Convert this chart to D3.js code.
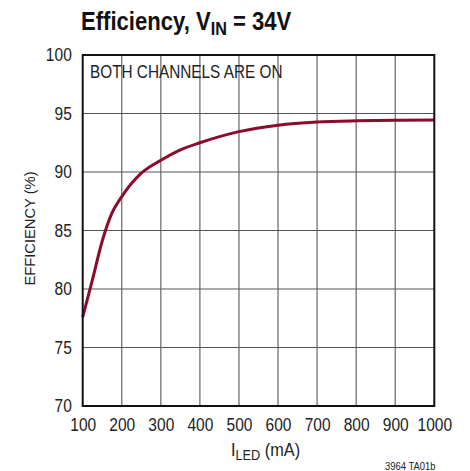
<!DOCTYPE html>
<html lang="en">
<head>
  <meta charset="UTF-8">
  <script src="https://d3js.org/d3.v7.min.js"></script>
  <style>
    body { margin: 0; background: #fff; }
    text { font-family: "Liberation Sans", Arial, sans-serif; fill: #222; }
  </style>
</head>
<body>
  <svg width="470" height="471"></svg>
  <script>
    // data
    const currentMA = [100, 125, 150, 175, 200, 250, 300, 350, 400, 500, 600, 700, 800, 900, 1000];
    const efficiency = [77.6, 80.8, 84.1, 86.5, 87.9, 89.9, 91.0, 91.9, 92.5, 93.45, 94.0, 94.27, 94.38, 94.43, 94.45];
    const xTicks = [100, 200, 300, 400, 500, 600, 700, 800, 900, 1000];
    const yTicks = [70, 75, 80, 85, 90, 95, 100];

    const svg = d3.select("svg");

    const x = d3.scaleLinear().domain([100, 1000]).range([82.7, 434.3]);
    const y = d3.scaleLinear().domain([70, 100]).range([406, 55]);

    // no narrow font installed, so squeeze text horizontally
    const squeeze = 0.84;

    // grid
    const grid = svg.append("g");
    grid.selectAll(".vg").data(xTicks.slice(1, -1)).join("line")
      .attr("x1", d => x(d)).attr("x2", d => x(d))
      .attr("y1", y(100)).attr("y2", y(70))
      .attr("stroke", "#666").attr("stroke-width", 1.2);
    grid.selectAll(".hg").data(yTicks.slice(1, -1)).join("line")
      .attr("x1", x(100)).attr("x2", x(1000))
      .attr("y1", d => y(d)).attr("y2", d => y(d))
      .attr("stroke", "#555").attr("stroke-width", 1.2);

    // x axis labels
    const xAxis = d3.axisBottom(x).tickValues(xTicks).tickFormat(d3.format("d")).tickSize(0).tickPadding(12);
    const xg = svg.append("g").attr("transform", `translate(0,${y(70)})`).call(xAxis);
    xg.select(".domain").remove();
    xg.selectAll("text").attr("font-size", 18.5).attr("font-family", null)
      .attr("transform", `scale(${squeeze},1)`);

    // y axis labels
    const yAxis = d3.axisLeft(y).tickValues(yTicks).tickSize(0).tickPadding(13);
    const yg = svg.append("g").attr("transform", `translate(${x(100)},0)`).call(yAxis);
    yg.select(".domain").remove();
    yg.selectAll("text").attr("font-size", 18.5).attr("font-family", null)
      .attr("transform", `scale(${squeeze},1)`);

    // curve
    const line = d3.line()
      .x((d, i) => x(currentMA[i]))
      .y(d => y(d))
      .curve(d3.curveMonotoneX);
    svg.append("path")
      .attr("d", line(efficiency))
      .attr("fill", "none")
      .attr("stroke", "#8c0a2c")
      .attr("stroke-width", 3);

    // frame
    svg.append("rect")
      .attr("x", x(100)).attr("y", y(100))
      .attr("width", x(1000) - x(100)).attr("height", y(70) - y(100))
      .attr("fill", "none").attr("stroke", "#111").attr("stroke-width", 2);

    // title
    const title = svg.append("text").attr("transform", "translate(81,30) scale(0.85,1)")
      .attr("font-size", 26).attr("font-weight", "bold").style("fill", "#111");
    title.append("tspan").text("Efficiency, V");
    title.append("tspan").attr("font-size", 19).attr("dy", 5).text("IN");
    title.append("tspan").attr("dy", -5).text(" = 34V");

    // annotation
    svg.append("text").attr("transform", "translate(90,77.5) scale(0.877,1)").attr("font-size", 17.5)
      .text("BOTH CHANNELS ARE ON");

    // axis titles
    const xl = svg.append("text").attr("transform", "translate(231,456) scale(0.88,1)").attr("font-size", 18.5);
    xl.append("tspan").text("I");
    xl.append("tspan").attr("font-size", 14.5).attr("dy", 4).text("LED");
    xl.append("tspan").attr("dy", -4).text(" (mA)");

    svg.append("text")
      .attr("transform", "translate(34.5,228.5) rotate(-90) scale(0.95,1)")
      .attr("text-anchor", "middle").attr("font-size", 15.5)
      .text("EFFICIENCY (%)");

    svg.append("text").attr("transform", "translate(385,470) scale(0.9,1)").attr("font-size", 10.5)
      .text("3964 TA01b");
  </script>
</body>
</html>
